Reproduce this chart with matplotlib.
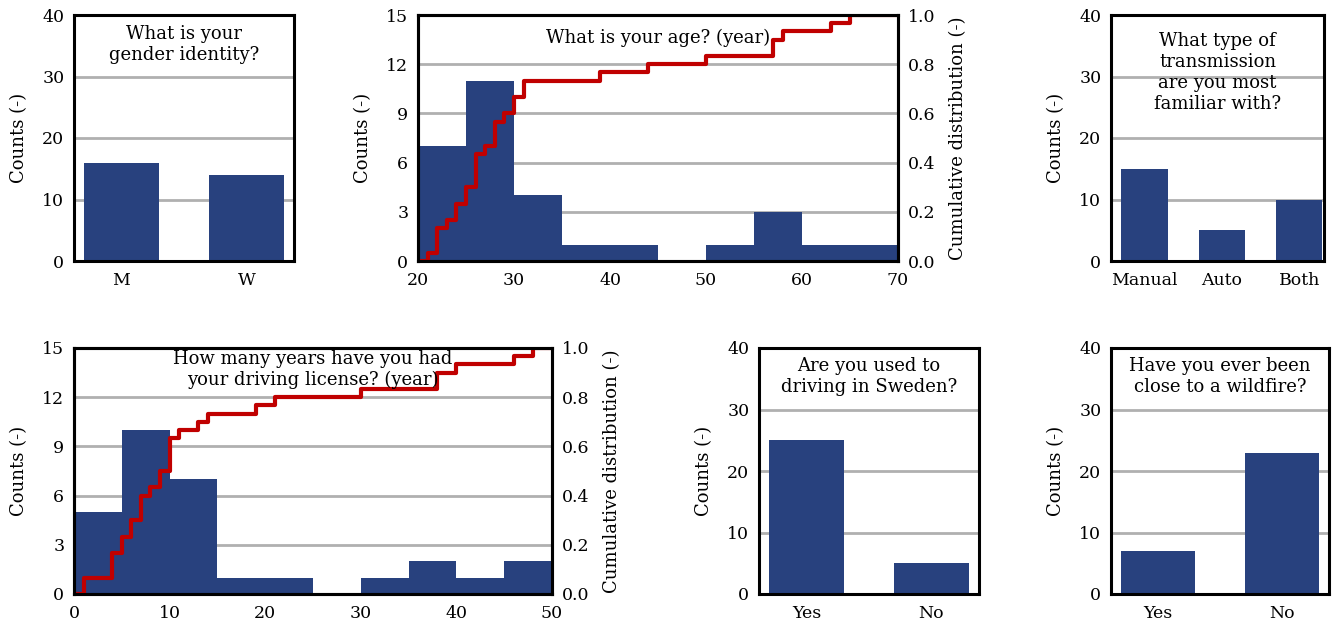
import numpy as np
import matplotlib.pyplot as plt

plt.rcParams['font.family'] = ['DejaVu Serif']
plt.rcParams['font.size'] = 12

bar_col = '#28417e'
red_col = '#c00000'
grid_col = '#b0b0b0'

# survey answers
gender_cat = ['M', 'W']
gender_n = [16, 14]

trans_cat = ['Manual', 'Auto', 'Both']
trans_n = [15, 5, 10]

sweden_cat = ['Yes', 'No']
sweden_n = [25, 5]

fire_cat = ['Yes', 'No']
fire_n = [7, 23]

ages = [21, 22, 22, 22, 23, 24, 24, 25, 25, 26, 26, 26, 26, 27, 28, 28, 28, 29,
        30, 30, 31, 31, 39, 44, 50, 57, 57, 58, 63, 65]
license_years = [1, 1, 4, 4, 4, 5, 5, 6, 6, 7, 7, 7, 8, 9, 9, 10, 10, 10, 10, 11,
                 13, 14, 19, 21, 30, 38, 38, 40, 46, 48]

W, H = 1338, 626
fig = plt.figure(figsize=(W / 100, H / 100), dpi=100)


def box(l, r, t, b):
    return fig.add_axes([l / W, 1 - b / H, (r - l) / W, (b - t) / H])


def style(ax):
    for s in ax.spines.values():
        s.set_linewidth(2.2)
        s.set_zorder(5)
    ax.tick_params(length=0, labelsize=12.5)
    ax.tick_params(axis='x', pad=8)
    ax.tick_params(axis='y', pad=7)
    ax.set_axisbelow(True)
    ax.yaxis.grid(True, color=grid_col, lw=2)


def put_title(ax, title, off):
    # off = pixels from the top of the frame to the top of the text
    ax.text(0.5, 1 - off / 246, title, transform=ax.transAxes, ha='center', va='top',
            fontsize=13, linespacing=1.22, zorder=10)


def bar_plot(ax, cats, vals, title, xlim, off):
    style(ax)
    ax.bar(range(len(cats)), vals, width=0.6, color=bar_col)
    ax.set_xticks(range(len(cats)))
    ax.set_xticklabels(cats)
    ax.set_ylim(0, 40)
    ax.set_yticks([0, 10, 20, 30, 40])
    ax.set_xlim(*xlim)
    ax.set_ylabel('Counts (-)', fontsize=13, labelpad=10)
    put_title(ax, title, off)


def hist_plot(ax, data, lo, hi, title, off):
    style(ax)
    ax.hist(data, bins=np.arange(lo, hi + 5, 5), color=bar_col)
    ax.set_xlim(lo, hi)
    ax.set_ylim(0, 15)
    ax.set_yticks(np.arange(0, 16, 3))
    ax.set_xticks(np.arange(lo, hi + 1, 10))
    ax.set_ylabel('Counts (-)', fontsize=13, labelpad=10)
    ax2 = ax.twinx()
    d = np.sort(data)
    n = len(d)
    xs = np.concatenate([[lo], d, [hi]])
    ys = np.concatenate([[0], np.arange(1, n + 1) / n, [1]])
    ax2.step(xs, ys, where='post', color=red_col, lw=3)
    ax2.set_ylim(0, 1)
    ax2.set_yticks(np.arange(0, 1.01, 0.2))
    ax2.set_yticklabels(['%.1f' % v for v in np.arange(0, 1.01, 0.2)])
    ax2.tick_params(length=0, pad=7, labelsize=12.5)
    for s in ax2.spines.values():
        s.set_linewidth(2.2)
    ax2.set_ylabel('Cumulative distribution (-)', fontsize=13, labelpad=10)
    put_title(ax2, title, off)


ax = box(74, 294, 15, 261)
bar_plot(ax, gender_cat, gender_n, 'What is your\ngender identity?', (-0.38, 1.38), 10)

ax = box(418, 898, 15, 261)
hist_plot(ax, ages, 20, 70, 'What is your age? (year)', 14)

ax = box(1111, 1324, 15, 261)
bar_plot(ax, trans_cat, trans_n,
         'What type of\ntransmission\nare you most\nfamiliar with?', (-0.43, 2.32), 17)

ax = box(74, 552, 348, 594)
hist_plot(ax, license_years, 0, 50,
          'How many years have you had\nyour driving license? (year)', 2)

ax = box(759, 979, 348, 594)
bar_plot(ax, sweden_cat, sweden_n, 'Are you used to\ndriving in Sweden?', (-0.38, 1.38), 9)

ax = box(1111, 1329, 348, 594)
bar_plot(ax, fire_cat, fire_n, 'Have you ever been\nclose to a wildfire?', (-0.38, 1.38), 9)

fig.savefig('out.png', dpi=100)
